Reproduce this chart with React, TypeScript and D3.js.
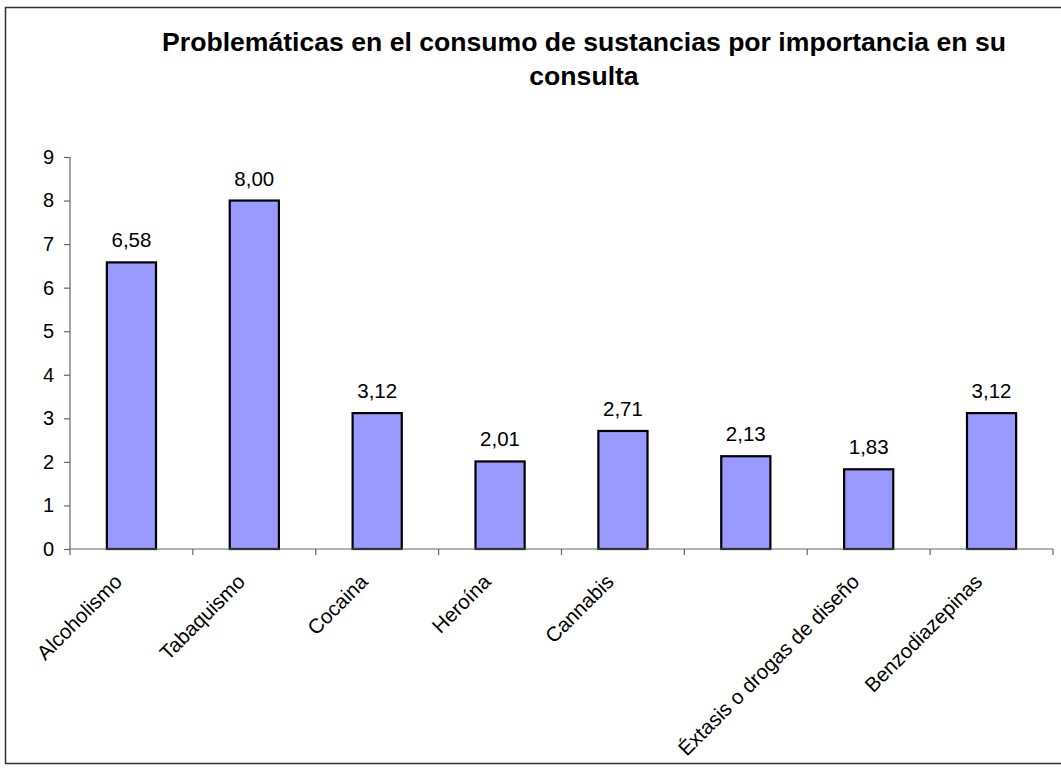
import { useEffect, useRef } from 'react';
import * as d3 from 'd3';

// one label per bar; Excel skipped the label under the 6th bar
const etiquetas = [
  'Alcoholismo',
  'Tabaquismo',
  'Cocaina',
  'Heroína',
  'Cannabis',
  '',
  'Éxtasis o drogas de diseño',
  'Benzodiazepinas',
];
const values = [6.58, 8.0, 3.12, 2.01, 2.71, 2.13, 1.83, 3.12];
const yTicks = [0, 1, 2, 3, 4, 5, 6, 7, 8, 9];
const titleLines = ['Problemáticas en el consumo de sustancias por importancia en su', 'consulta'];

interface Row {
  key: string;
  label: string;
  value: number;
}

function App() {
  const svgRef = useRef<SVGSVGElement | null>(null);
  const width = 1061;
  const height = 774;
  const margin = { top: 157, right: 8, bottom: 225, left: 70 };

  useEffect(() => {
    const data: Row[] = values.map((v, i) => ({ key: `c${i}`, label: etiquetas[i], value: v }));
    const svg = d3.select(svgRef.current);
    svg.selectAll('*').remove();

    svg
      .append('rect')
      .attr('x', 5.5)
      .attr('y', 7.5)
      .attr('width', 1080)
      .attr('height', 756)
      .attr('fill', 'white')
      .attr('stroke', '#333')
      .attr('stroke-width', 1.5);

    const x = d3
      .scaleBand()
      .domain(data.map((d) => d.key))
      .range([margin.left, width - margin.right])
      .paddingInner(0.6)
      .paddingOuter(0.3);

    const y = d3
      .scaleLinear()
      .domain([0, 9])
      .range([height - margin.bottom, margin.top]);

    const font = 'Arial, "Liberation Sans", sans-serif';

    // title
    svg
      .append('text')
      .attr('text-anchor', 'middle')
      .attr('font-family', font)
      .attr('font-weight', 'bold')
      .attr('font-size', 26.6)
      .selectAll('tspan')
      .data(titleLines)
      .join('tspan')
      .attr('x', 584)
      .attr('y', (_d, i) => 51 + i * 34)
      .text((d) => d);

    // y axis
    const yAxis = svg
      .append('g')
      .attr('transform', `translate(${margin.left},0)`)
      .call(d3.axisLeft(y).tickValues(yTicks).tickSize(6).tickPadding(10).tickFormat(d3.format('d')));
    yAxis.selectAll('line, path').attr('stroke', '#666').attr('stroke-width', 1.2);
    yAxis.select('.domain').attr('d', `M0,${y(9)}V${y(0)}`);
    yAxis.selectAll('text').attr('font-family', font).attr('font-size', 20).attr('fill', '#000');

    // bars
    svg
      .append('g')
      .selectAll('rect')
      .data(data)
      .join('rect')
      .attr('x', (d) => x(d.key)!)
      .attr('y', (d) => y(d.value))
      .attr('width', x.bandwidth())
      .attr('height', (d) => y(0) - y(d.value))
      .attr('fill', '#9999FF')
      .attr('stroke', '#000')
      .attr('stroke-width', 2.2);

    // x axis
    const step = x.step();
    const x0 = margin.left;
    const boundaries = d3.range(data.length + 1).map((i) => x0 + i * step);
    const xg = svg.append('g');
    xg.append('line')
      .attr('x1', x0)
      .attr('x2', width - margin.right)
      .attr('y1', y(0))
      .attr('y2', y(0))
      .attr('stroke', '#666')
      .attr('stroke-width', 1.2);
    xg.selectAll('line.tick')
      .data(boundaries)
      .join('line')
      .attr('class', 'tick')
      .attr('x1', (d) => d)
      .attr('x2', (d) => d)
      .attr('y1', y(0))
      .attr('y2', y(0) + 6)
      .attr('stroke', '#666')
      .attr('stroke-width', 1.2);

    // value labels
    svg
      .append('g')
      .selectAll('text')
      .data(data)
      .join('text')
      .attr('x', (d) => x(d.key)! + x.bandwidth() / 2)
      .attr('y', (d) => y(d.value) - 15)
      .attr('text-anchor', 'middle')
      .attr('font-family', font)
      .attr('font-size', 20.5)
      .text((d) => d3.format('.2f')(d.value).replace('.', ','));

    // category labels
    svg
      .append('g')
      .selectAll('text')
      .data(data)
      .join('text')
      .attr('transform', (d) => `translate(${x(d.key)! + x.bandwidth() / 2 - 8},${y(0) + 34}) rotate(-45)`)
      .attr('text-anchor', 'end')
      .attr('font-family', font)
      .attr('font-size', 20.5)
      .text((d) => d.label);
  }, []);

  return (
    <svg
      ref={svgRef}
      width={width}
      height={height}
      style={{ position: 'absolute', left: 0, top: 0, background: 'white' }}
    />
  );
}

export default App;
